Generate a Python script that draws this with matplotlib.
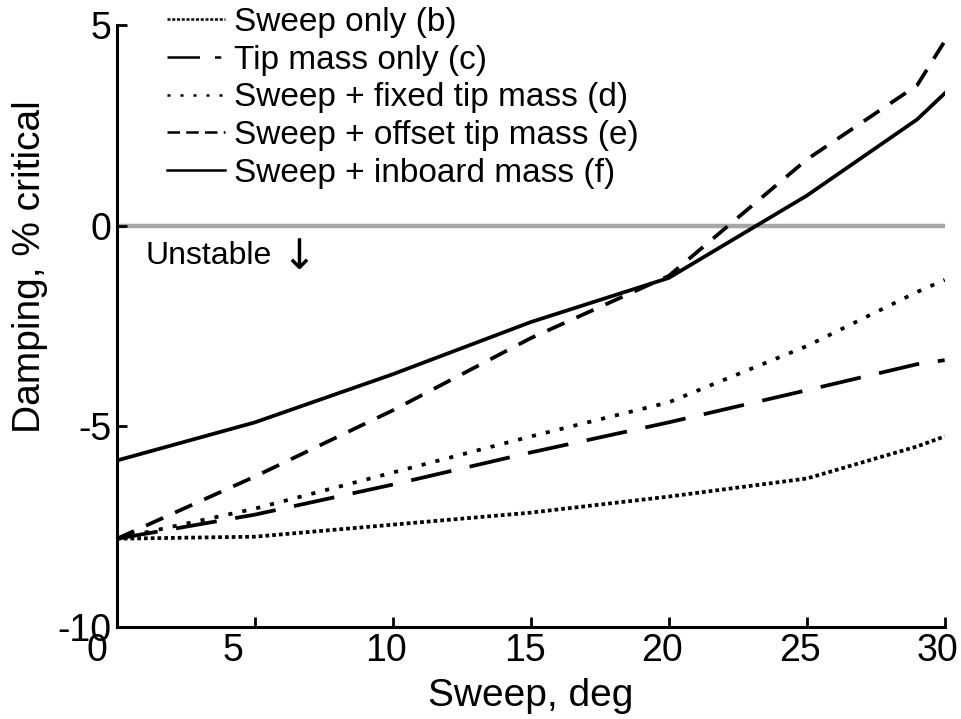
"""
Damping vs sweep angle for the blade configurations (b)-(f)
"""
import matplotlib
matplotlib.use("Agg")
from matplotlib import pyplot as plt
from matplotlib.lines import Line2D
from matplotlib.transforms import ScaledTranslation

plt.rcParams['font.family'] = ['Liberation Sans', 'DejaVu Sans']

sweep_deg = [0, 5, 10, 15, 20, 25, 29, 30]

sweep_only = [-7.8, -7.75, -7.45, -7.15, -6.75, -6.3, -5.5, -5.25]
tip_mass_only = [-7.8, -7.2, -6.45, -5.65, -4.9, -4.1, -3.45, -3.35]
sweep_fixed_tip = [-7.8, -7.05, -6.15, -5.25, -4.4, -3.0, -1.65, -1.35]
sweep_offset_tip = [-7.8, -6.25, -4.6, -2.8, -1.25, 1.65, 3.5, 4.6]
sweep_inboard = [-5.85, -4.9, -3.7, -2.4, -1.3, 0.75, 2.65, 3.3]

labels = ["Sweep only (b)", "Tip mass only (c)", "Sweep + fixed tip mass (d)",
          "Sweep + offset tip mass (e)", "Sweep + inboard mass (f)"]

series = [sweep_only, tip_mass_only, sweep_fixed_tip, sweep_offset_tip, sweep_inboard]
dash_styles = [(0, (1.0, 0.8)), (0, (11, 5)), (0, (1.1, 2.7)), (0, (5, 3.5)), '-']
legend_dashes = [(0, (1.2, 0.7)), (0, (13, 6, 2.5, 100)), (0, (1.2, 4)), (0, (5, 2.5)), '-']

f, ax = plt.subplots(figsize=(9.62, 7.19), dpi=100)
f.subplots_adjust(left=0.1216, right=0.982, bottom=0.128, top=0.965)

ax.plot([0, 30], [0, 0], color='#a6a6a6', linewidth=3.2, solid_capstyle='butt', zorder=1)

for values, style in zip(series, dash_styles):
    ax.plot(sweep_deg, values, color='black', linewidth=2.7, linestyle=style,
            dash_capstyle='butt', zorder=2)

ax.text(1.05, -0.75, "Unstable", fontsize=23, va='center', ha='left')
ax.text(5.95, -0.78, "\u2193", fontsize=30, va='center', ha='left', family='DejaVu Sans')

handles = [Line2D([0], [0], color='black', linewidth=1.8, linestyle=s, dash_capstyle='butt')
           for s in legend_dashes]
leg = ax.legend(handles, labels, loc='upper left', bbox_to_anchor=(0.060, 1.03),
                frameon=False, fontsize=24, handlelength=1.75, handletextpad=0.28,
                labelspacing=0.2, borderaxespad=0, borderpad=0)

ax.set_xlim(0, 30)
ax.set_ylim(-10, 5)
ax.set_xticks([0, 5, 10, 15, 20, 25, 30])
ax.set_yticks([-10, -5, 0, 5])
ax.set_yticklabels(['-10', '-5', '0', '5'])

ax.spines['top'].set_visible(False)
ax.spines['right'].set_visible(False)
ax.spines['left'].set_linewidth(2.2)
ax.spines['bottom'].set_linewidth(2.2)
ax.tick_params(direction='in', length=7, width=2, labelsize=27, pad=4)

# tick labels in the original sit a little left of their ticks
label_shift_px = [-20, -22, -7, -6, -7, -7, -7]
for lab, dx in zip(ax.get_xticklabels(), label_shift_px):
    lab.set_transform(lab.get_transform() + ScaledTranslation(dx / 100, 0, f.dpi_scale_trans))

ax.set_xlabel("Sweep, deg", fontsize=28, labelpad=7)
ax.set_ylabel("Damping, % critical", fontsize=28)
ax.yaxis.set_label_coords(-0.083, 0.598)

plt.savefig("out.png", dpi=100)
